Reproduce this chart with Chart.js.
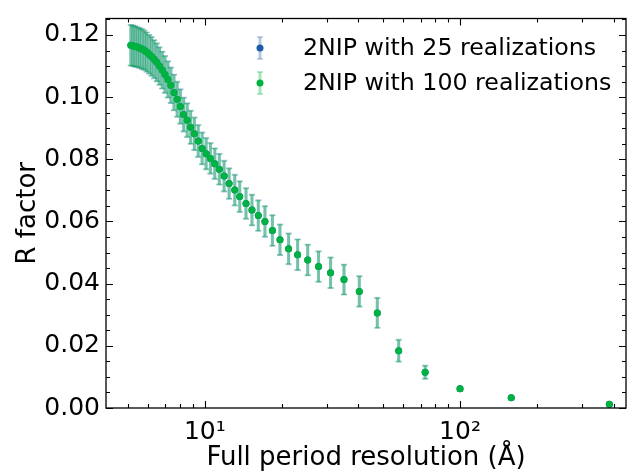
<!DOCTYPE html>
<html>
<head>
<meta charset="utf-8">
<script src="https://cdn.jsdelivr.net/npm/chart.js@4.4.1/dist/chart.umd.min.js"></script>
<style>
  html, body { margin: 0; padding: 0; background: #fff; }
  #wrap { width: 630px; height: 474px; }
</style>
</head>
<body>
<div id="wrap"><canvas id="rChart" width="630" height="474"></canvas></div>
<script>
// full period resolution (Å), one entry per point
const resolution = [384.6, 158.7, 100.0, 73.0, 57.5, 47.4, 40.3, 35.1, 31.1, 27.9,
  25.3, 23.1, 21.3, 19.7, 18.4, 17.2, 16.2, 15.3, 14.5, 13.7,
  13.1, 12.45, 11.90, 11.40, 10.94, 10.52, 10.12, 9.76, 9.42, 9.10,
  8.80, 8.53, 8.26, 8.02, 7.79, 7.57, 7.36, 7.17, 6.98, 6.81,
  6.64, 6.48, 6.33, 6.18, 6.05, 5.91, 5.79, 5.67, 5.55, 5.44,
  5.33, 5.23, 5.13];

// R factor, 100 realizations
const r100 = [0.0012, 0.0033, 0.0062, 0.0115, 0.0184, 0.0306, 0.0375, 0.0413, 0.0435, 0.0455,
  0.0476, 0.0493, 0.0512, 0.0541, 0.0571, 0.0600, 0.0619, 0.0637, 0.0658, 0.0680,
  0.0701, 0.0722, 0.0746, 0.0768, 0.0786, 0.0803, 0.0818, 0.0835, 0.0859, 0.0882,
  0.0903, 0.0926, 0.0944, 0.0970, 0.0993, 0.1015, 0.1038, 0.1057, 0.1073, 0.1087,
  0.1100, 0.1112, 0.1122, 0.1131, 0.1138, 0.1145, 0.1151, 0.1155, 0.1158, 0.1161,
  0.1163, 0.1165, 0.1167];
const err100 = [0.0002, 0.0003, 0.0006, 0.0020, 0.0034, 0.0047, 0.0048, 0.0047, 0.0048, 0.0048,
  0.0048, 0.0048, 0.0048, 0.0048, 0.0048, 0.0048, 0.0048, 0.0048, 0.0048, 0.0048,
  0.0048, 0.0048, 0.0048, 0.0048, 0.0048, 0.0048, 0.0049, 0.0050, 0.0050, 0.0051,
  0.0052, 0.0053, 0.0053, 0.0054, 0.0055, 0.0056, 0.0056, 0.0057, 0.0058, 0.0058,
  0.0059, 0.0060, 0.0060, 0.0061, 0.0061, 0.0062, 0.0062, 0.0063, 0.0063, 0.0063,
  0.0064, 0.0064, 0.0064];

// R factor, 25 realizations (almost completely hidden under the 100 series)
const r25 = [0.0012, 0.0033, 0.0062, 0.0115, 0.0184, 0.0306, 0.0375, 0.0413, 0.0435, 0.0455,
  0.0476, 0.0493, 0.0512, 0.0541, 0.0571, 0.0600, 0.0619, 0.0637, 0.0658, 0.0680,
  0.0701, 0.0722, 0.0746, 0.0768, 0.0786, 0.0803, 0.0818, 0.0835, 0.0859, 0.0882,
  0.0903, 0.0926, 0.0944, 0.0970, 0.0993, 0.1015, 0.1038, 0.1057, 0.1073, 0.1087,
  0.1100, 0.1112, 0.1122, 0.1131, 0.1138, 0.1145, 0.1151, 0.1155, 0.1158, 0.1161,
  0.1163, 0.1165, 0.1167];
const err25 = [0.0003, 0.0004, 0.0007, 0.0022, 0.0036, 0.0049, 0.0050, 0.0049, 0.0050, 0.0050,
  0.0050, 0.0050, 0.0050, 0.0050, 0.0050, 0.0050, 0.0050, 0.0050, 0.0050, 0.0050,
  0.0050, 0.0050, 0.0050, 0.0050, 0.0050, 0.0050, 0.0051, 0.0052, 0.0052, 0.0053,
  0.0054, 0.0055, 0.0055, 0.0056, 0.0057, 0.0058, 0.0058, 0.0059, 0.0060, 0.0060,
  0.0061, 0.0062, 0.0062, 0.0063, 0.0063, 0.0064, 0.0064, 0.0065, 0.0065, 0.0065,
  0.0066, 0.0066, 0.0066];

const seriesNames = ['2NIP with 25 realizations', '2NIP with 100 realizations'];
const xMajorTicks = [10, 100];
const xTickLabels = ['10\u00B9', '10\u00B2'];
const yTickLabels = ['0.00', '0.02', '0.04', '0.06', '0.08', '0.10', '0.12'];

const FONT = "'DejaVu Sans', sans-serif";
const blue = 'rgb(26, 94, 170)';
const blueBar = 'rgba(26, 94, 170, 0.33)';
const green = 'rgb(0, 178, 64)';
const greenBar = 'rgba(0, 178, 64, 0.35)';

function toPoints(xs, ys, es) {
    return xs.map((x, i) => ({ x: x, y: ys[i], err: es[i] }));
}

// error bars drawn right before each dataset's markers
const errorBars = {
    id: 'errorBars',
    beforeDatasetDraw(chart, args) {
        const ds = chart.data.datasets[args.index];
        const xs = chart.scales.x, ys = chart.scales.y;
        const ctx = chart.ctx;
        ctx.save();
        ctx.strokeStyle = ds.barColor;
        ds.data.forEach(p => {
            const px = xs.getPixelForValue(p.x);
            const top = ys.getPixelForValue(p.y + p.err);
            const bot = ys.getPixelForValue(p.y - p.err);
            ctx.lineWidth = 3;
            ctx.beginPath();
            ctx.moveTo(px, top); ctx.lineTo(px, bot);
            ctx.stroke();
            ctx.lineWidth = 1.5;
            ctx.beginPath();
            ctx.moveTo(px - 3, top); ctx.lineTo(px + 3, top);
            ctx.moveTo(px - 3, bot); ctx.lineTo(px + 3, bot);
            ctx.stroke();
        });
        ctx.restore();
    }
};

// matplotlib style frame with inward ticks, plus the legend
const frameAndLegend = {
    id: 'frameAndLegend',
    afterDraw(chart) {
        const ctx = chart.ctx;
        const a = chart.chartArea;
        const xs = chart.scales.x, ys = chart.scales.y;
        ctx.save();
        ctx.strokeStyle = '#000';
        ctx.lineWidth = 1.3;
        ctx.strokeRect(a.left, a.top, a.right - a.left, a.bottom - a.top);

        ctx.lineWidth = 1.1;
        ctx.beginPath();
        // x ticks
        [1, 10, 100].forEach(dec => {
            for (let m = 1; m <= 9; m++) {
                const v = dec * m;
                if (v < xs.min || v > xs.max) continue;
                const px = Math.round(xs.getPixelForValue(v)) + 0.5;
                const len = m === 1 ? 7 : 4;
                ctx.moveTo(px, a.bottom); ctx.lineTo(px, a.bottom - len);
                ctx.moveTo(px, a.top); ctx.lineTo(px, a.top + len);
            }
        });
        // y ticks
        for (let i = 0; i <= 25; i++) {
            const v = i * 0.005;
            if (v > ys.max) break;
            const py = Math.round(ys.getPixelForValue(v)) + 0.5;
            const len = i % 4 === 0 ? 7 : 4;
            ctx.moveTo(a.left, py); ctx.lineTo(a.left + len, py);
            ctx.moveTo(a.right, py); ctx.lineTo(a.right - len, py);
        }
        ctx.stroke();

        // legend
        const rows = [
            { y: 48, dot: blue, bar: blueBar, label: seriesNames[0] },
            { y: 83, dot: green, bar: greenBar, label: seriesNames[1] }
        ];
        const mx = 260;
        rows.forEach(r => {
            ctx.strokeStyle = r.bar;
            ctx.lineWidth = 3;
            ctx.beginPath();
            ctx.moveTo(mx, r.y - 11); ctx.lineTo(mx, r.y + 11);
            ctx.stroke();
            ctx.lineWidth = 1.5;
            ctx.beginPath();
            ctx.moveTo(mx - 3, r.y - 11); ctx.lineTo(mx + 3, r.y - 11);
            ctx.moveTo(mx - 3, r.y + 11); ctx.lineTo(mx + 3, r.y + 11);
            ctx.stroke();
            ctx.fillStyle = r.dot;
            ctx.beginPath();
            ctx.arc(mx, r.y, 3.5, 0, Math.PI * 2);
            ctx.fill();
            ctx.fillStyle = '#000';
            ctx.font = '23.7px ' + FONT;
            ctx.textBaseline = 'middle';
            ctx.textAlign = 'left';
            ctx.fillText(r.label, 303, r.y + 1);
        });
        ctx.restore();
    }
};

const chart = new Chart(document.getElementById('rChart').getContext('2d'), {
    type: 'scatter',
    data: {
        datasets: [
            {
                label: seriesNames[1],
                data: toPoints(resolution, r100, err100),
                backgroundColor: green,
                borderWidth: 0,
                pointRadius: 3.5,
                barColor: greenBar,
                order: 0
            },
            {
                label: seriesNames[0],
                data: toPoints(resolution, r25, err25),
                backgroundColor: blue,
                borderWidth: 0,
                pointRadius: 3.5,
                barColor: blueBar,
                order: 1
            }
        ]
    },
    options: {
        responsive: false,
        devicePixelRatio: 1,
        animation: false,
        layout: { padding: { top: 16, right: 3, left: 0, bottom: 0 } },
        plugins: {
            legend: { display: false },
            tooltip: { enabled: false }
        },
        scales: {
            x: {
                type: 'logarithmic',
                min: 4.1,
                max: 447,
                grid: { display: false, drawTicks: false },
                border: { display: false },
                afterBuildTicks: s => { s.ticks = xMajorTicks.map(v => ({ value: v })); },
                afterFit: s => { s.height = 66; },
                ticks: {
                    padding: 9,
                    autoSkip: false,
                    maxRotation: 0,
                    color: '#000',
                    font: { family: FONT, size: 25 },
                    callback: (v) => xTickLabels[xMajorTicks.indexOf(v)]
                },
                title: {
                    display: true,
                    text: 'Full period resolution (\u00C5)',
                    color: '#000',
                    font: { family: FONT, size: 26 },
                    padding: { top: 0, bottom: 0 }
                }
            },
            y: {
                min: 0,
                max: 0.1253,
                grid: { display: false, drawTicks: false },
                border: { display: false },
                afterFit: s => { s.width = 106; },
                ticks: {
                    stepSize: 0.02,
                    includeBounds: false,
                    padding: 6,
                    color: '#000',
                    font: { family: FONT, size: 25, lineHeight: 1 },
                    callback: (v, i) => yTickLabels[Math.round(v / 0.02)]
                },
                title: {
                    display: true,
                    text: 'R factor',
                    color: '#000',
                    font: { family: FONT, size: 26 },
                    padding: { top: 13, bottom: 0 }
                }
            }
        }
    },
    plugins: [errorBars, frameAndLegend]
});
</script>
</body>
</html>
